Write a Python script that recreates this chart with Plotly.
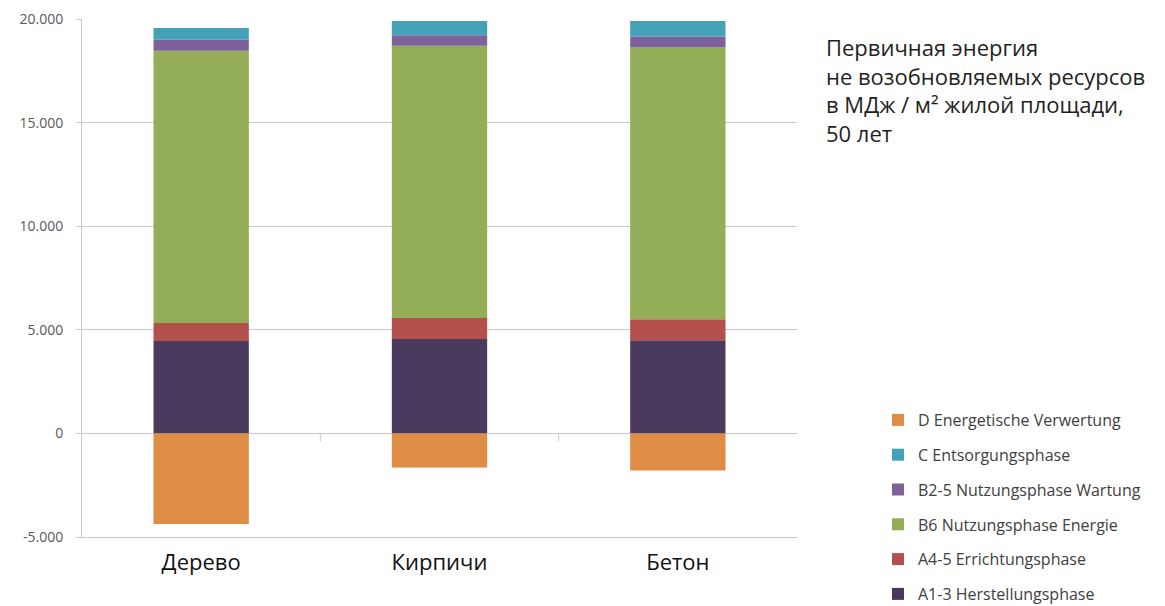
import plotly.graph_objects as go

categories = ["Дерево", "Кирпичи", "Бетон"]
a1_3 = [4460, 4560, 4490]
a4_5 = [870, 1010, 1020]
b6 = [13140, 13140, 13120]
b2_5 = [530, 500, 530]
c_ent = [565, 690, 740]
d_ver = [-4370, -1640, -1790]

series_names = [
    "A1-3 Herstellungsphase",
    "A4-5 Errichtungsphase",
    "B6 Nutzungsphase Energie",
    "B2-5 Nutzungsphase Wartung",
    "C Entsorgungsphase",
    "D Energetische Verwertung",
]
series_values = [a1_3, a4_5, b6, b2_5, c_ent, d_ver]
series_colors = ["#4A3A5D", "#B3504C", "#93AE57", "#7D619B", "#45A1B8", "#DF8C44"]

ytick_vals = [-5000, 0, 5000, 10000, 15000, 20000]
ytick_text = ["-5.000", "0", "5.000", "10.000", "15.000", "20.000"]

title_text = ("Первичная энергия<br>не возобновляемых ресурсов<br>"
              "в МДж / м² жилой площади,<br>50 лет")

fig = go.Figure()
n = len(series_names)
for i, (name, vals, col) in enumerate(zip(series_names, series_values, series_colors)):
    fig.add_trace(go.Bar(
        x=categories, y=vals, name=name, marker_color=col,
        marker_line_width=0, legendgroup=str(i), legendrank=n - i,
    ))

grid = "#C9C9C9"
L, R, T, B = 82, 368, 19, 69
W, H = 1165, 606
pw, ph = W - L - R, H - T - B

fig.update_layout(
    width=W, height=H,
    barmode="relative", bargap=0.6,
    plot_bgcolor="white", paper_bgcolor="white",
    margin=dict(l=L, r=R, t=T, b=B, autoexpand=False),
    showlegend=True,
    legend=dict(
        traceorder="grouped", tracegroupgap=11.0,
        xref="container", yref="container",
        x=878 / W, y=1 - 403 / H, xanchor="left", yanchor="top",
        font=dict(family="Open Sans", size=16, color="#404040"),
        itemwidth=30, bgcolor="rgba(0,0,0,0)",
    ),
    xaxis=dict(
        automargin=False,
        showgrid=False, showline=True, linecolor=grid, linewidth=1,
        ticks="", tickfont=dict(family="Open Sans", size=22, color="#111111"),
        ticklabelstandoff=6,
    ),
    yaxis=dict(
        automargin=False,
        range=[-5000, 20000], tickvals=ytick_vals, ticktext=ytick_text,
        showgrid=True, gridcolor=grid, gridwidth=1,
        zeroline=True, zerolinecolor=grid, zerolinewidth=1,
        showline=True, linecolor=grid, linewidth=1,
        ticks="outside", ticklen=5, tickcolor=grid,
        tickfont=dict(family="Open Sans", size=14, color="#595959"),
        ticklabelstandoff=10,
    ),
    annotations=[dict(
        text=title_text, xref="paper", yref="paper",
        x=(824 - L) / pw, y=(H - B - 30) / ph,
        xanchor="left", yanchor="top", align="left", showarrow=False,
        font=dict(family="Open Sans", size=22, color="#231F20"),
    )],
)

# category-boundary tick marks on the zero line
for k in range(1, len(categories)):
    fig.add_shape(type="line", xref="x", yref="y", x0=k - 0.5, x1=k - 0.5,
                  ysizemode="pixel", yanchor=0, y0=0, y1=-8,
                  line=dict(color=grid, width=1))

fig.write_html("out.html")
